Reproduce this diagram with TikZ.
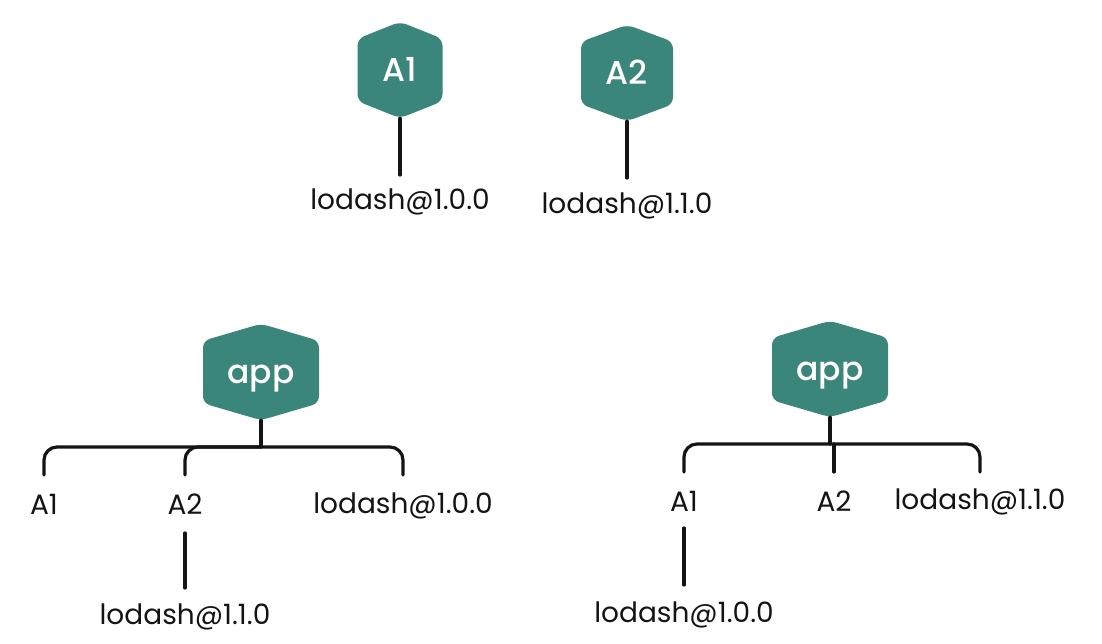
\documentclass[tikz,border=0pt]{standalone}
\usepackage{fontspec}
\setmainfont{Poppins}
\newfontfamily\hexfont{Poppins}[UprightFont={* Medium}]
\usetikzlibrary{calc,backgrounds}
\definecolor{hexteal}{RGB}{59,134,122}
\definecolor{ink}{RGB}{20,20,20}
\tikzset{
  hexnode/.style={inner sep=0pt, minimum height=96pt, text height=23pt, text depth=0pt, text=white, font=\fontsize{33}{36}\hexfont},
  lbl/.style={inner sep=0pt, anchor=base, text=ink, font=\fontsize{28}{32}\selectfont},
  conn/.style={draw=ink, line width=3.2pt, line cap=round, rounded corners=13pt},
}
\newcommand\hexbg[3]{%
  \fill[hexteal, rounded corners=7pt] (#1.north) -- ($(#1.north)+(-#2,#3)$) -- ($(#1.south)+(-#2,-#3)$) -- (#1.south) -- ($(#1.south)+(#2,-#3)$) -- ($(#1.north)+(#2,#3)$) -- cycle;}
\begin{document}
\begin{tikzpicture}[x=1pt,y=-1pt]
\useasboundingbox (0,0) rectangle (1102,644);
% top hexagons
\node[hexnode, minimum width=85pt] (A1) at (400,70) {A1};
\node[hexnode, minimum width=92pt] (A2) at (627,73) {A2};
\node[lbl] (l1) at (400,210) {lodash@1.0.0};
\node[lbl] (l2) at (627,214) {lodash@1.1.0};
\draw[conn] (A1.south) -- ([yshift=35pt]l1.base);
\draw[conn] (A2.south) -- ([yshift=36pt]l2.base);
% left tree
\node[hexnode, minimum width=116pt] (appL) at (261,372) {app};
\node[lbl] (LA1) at (44,514) {A1};
\node[lbl] (LA2) at (185,514) {A2};
\node[lbl] (Llo) at (403,513) {lodash@1.0.0};
\node[lbl] (LA2lo) at (185,624) {lodash@1.1.0};
\coordinate (Lbar) at (261,447);
\draw[conn] (appL.south) -- (Lbar);
\draw[conn] ([yshift=39pt]LA1.base) |- (Lbar) -| ([yshift=38pt]Llo.base);
\draw[conn] ([yshift=39pt]LA2.base) |- (Lbar);
\draw[conn] ([yshift=-19pt]LA2.base) -- ([yshift=36pt]LA2lo.base);
% right tree
\node[hexnode, minimum width=116pt] (appR) at (830,369) {app};
\node[lbl] (RA1) at (684,511) {A1};
\node[lbl] (RA2) at (834,511) {A2};
\node[lbl] (Rlo) at (980,509) {lodash@1.1.0};
\node[lbl] (RA1lo) at (684,622) {lodash@1.0.0};
\coordinate (Rbar) at (830,444);
\draw[conn] (appR.south) -- (Rbar);
\draw[conn] ([yshift=39pt]RA1.base) |- (Rbar) -| ([yshift=37pt]Rlo.base);
\draw[conn, rounded corners=0pt] (RA2.base |- Rbar) -- ([yshift=39pt]RA2.base);
\draw[conn] ([yshift=-17pt]RA1.base) -- ([yshift=37pt]RA1lo.base);
\begin{scope}[on background layer]
\hexbg{A1}{42.5}{17}
\hexbg{A2}{46}{17}
\hexbg{appL}{58}{17}
\hexbg{appR}{58}{17}
\end{scope}
\end{tikzpicture}
\end{document}
